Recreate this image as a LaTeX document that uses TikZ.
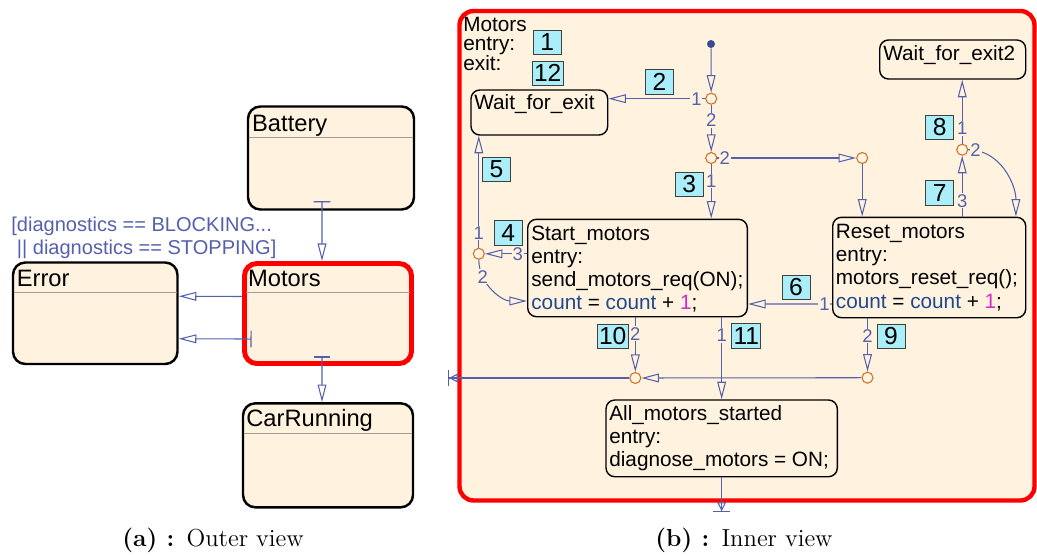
\documentclass[tikz,border=0pt]{standalone}
\usepackage{fontspec}
\newfontfamily\diafont{Liberation Sans}
\definecolor{stcream}{RGB}{255,243,224}
\definecolor{trblue}{RGB}{85,96,172}
\definecolor{dotblue}{RGB}{60,72,150}
\definecolor{jnorange}{RGB}{204,112,40}
\definecolor{lblcyan}{RGB}{170,238,250}
\definecolor{cntblue}{RGB}{30,72,140}
\definecolor{cntpink}{RGB}{214,40,200}
\definecolor{sepgray}{RGB}{165,155,155}
\usetikzlibrary{arrows.meta,positioning,fit}
\newcommand{\lntop}{\rule{0pt}{9pt}}

\begin{document}
\begin{tikzpicture}[x=0.02cm,y=0.02cm,
  outerstate/.style={draw=black,line width=1.4pt,rounded corners=7pt,fill=stcream,inner sep=0pt},
  activestate/.style={outerstate,draw=red,line width=2.8pt},
  innerstate/.style={draw=black,line width=0.8pt,rounded corners=5pt,fill=stcream,inner sep=0pt},
  outertitle/.style={anchor=base west,inner sep=0pt,font=\diafont\fontsize{13.5}{16}\selectfont},
  stext/.style={anchor=north west,inner sep=0pt,align=left,font=\diafont\fontsize{11.8}{13.2}\selectfont},
  sepline/.style={draw=sepgray,line width=0.5pt},
  trans/.style={draw=trblue,line width=0.6pt,-{Triangle[open,length=10pt,width=5pt]}},
  histtrans/.style={trans,{Bar[width=9.5pt]}-{Triangle[open,length=10pt,width=5pt]}},
  exittrans/.style={trans,-{Triangle[open,length=5pt,width=5pt]Bar[width=9.5pt]}},
  junc/.style={circle,draw=jnorange,fill=stcream,line width=0.6pt,minimum size=0.22cm,inner sep=0pt},
  defdot/.style={circle,fill=dotblue,minimum size=0.16cm,inner sep=0pt},
  numbox/.style={draw=black!75,fill=lblcyan,line width=0.5pt,minimum width=0.56cm,minimum height=0.49cm,
    inner sep=1pt,font=\diafont\fontsize{14}{14}\selectfont},
  prio/.style={text=trblue,fill=stcream,inner sep=0.5pt,font=\diafont\fontsize{10.5}{10.5}\selectfont},
  guardtext/.style={anchor=north west,inner sep=0pt,align=left,text=trblue,font=\diafont\fontsize{11.4}{13.3}\selectfont},
  capt/.style={anchor=base,inner sep=0pt,font=\fontsize{14}{17}\selectfont}
]
  \useasboundingbox (0,0) rectangle (1037,-555);

  % (a) outer view
  \node[outerstate,fit={(248,-106.5) (414,-209.5)}] (battery) {};
  \node[outertitle] (batteryt) at (251.8,-131.5) {Battery};
  \draw[sepline] (249,-137.3) -- (413,-137.3);
  \node[activestate,fit={(244.5,-263.5) (411.5,-363.5)}] (motors) {};
  \node[outertitle] (motorst) at (247.8,-286) {Motors};
  \draw[sepline] (246,-292.7) -- (410,-292.7);
  \node[outerstate,fit={(13,-262.5) (177.5,-364)}] (error) {};
  \node[outertitle] (errort) at (16.5,-286) {Error};
  \draw[sepline] (14,-292) -- (176.5,-292);
  \node[outerstate,fit={(243,-403.3) (413,-507.3)}] (carrun) {};
  \node[outertitle] (carrunt) at (246,-426.7) {CarRunning};
  \draw[sepline] (244,-433.3) -- (412,-433.3);
  \node[guardtext] (guard) at (11,-215.4) {\lntop[diagnostics == BLOCKING...\\\ || diagnostics == STOPPING]};

  \draw[histtrans,shorten <=-0.19cm] ([xshift=-0.18cm]battery.south) -- ([xshift=-0.12cm]motors.north);
  \draw[trans] ([yshift=0.34cm]motors.west) -- ([yshift=0.34cm]error.east);
  \draw[histtrans,shorten <=-0.19cm] ([yshift=-0.51cm]motors.west) -- ([yshift=-0.51cm]error.east);
  \draw[histtrans,shorten <=-0.19cm] ([xshift=-0.12cm]motors.south) -- ([xshift=-0.12cm]carrun.north);

  % (b) inner view
  \node[activestate,line width=2.5pt,rounded corners=8pt,fit={(459.5,-11) (1034.5,-500.5)}] (motorsin) {};
  \node[stext,font=\diafont\fontsize{11.8}{11.2}\selectfont] (motorshd) at (463,-15.1) {\lntop Motors\\entry:\\exit:};

  % states
  \node[innerstate,fit={(471,-90) (607.7,-135)}] (waitexit) {};
  \node[stext] (waitexitt) at (474,-93.4) {\lntop Wait\_for\_exit};
  \node[innerstate,fit={(879.7,-40) (1025.7,-79)}] (waitexit2) {};
  \node[stext] (waitexit2t) at (883,-44.1) {\lntop Wait\_for\_exit2};
  \node[innerstate,fit={(527.7,-219.3) (747.3,-316.7)}] (startm) {};
  \node[stext] (startmt) at (531,-224.1) {\lntop Start\_motors\\entry:\\send\_motors\_req(ON);\\
    \textcolor{cntblue}{count} = \textcolor{cntblue}{count} + \textcolor{cntpink}{1};};
  \node[innerstate,fit={(832.7,-217.3) (1025.7,-317.7)}] (resetm) {};
  \node[stext] (resetmt) at (835.6,-222.4) {\lntop Reset\_motors\\entry:\\motors\_reset\_req();\\
    \textcolor{cntblue}{count} = \textcolor{cntblue}{count} + \textcolor{cntpink}{1};};
  \node[innerstate,fit={(606,-400) (837.3,-476.7)}] (allm) {};
  \node[stext] (allmt) at (609,-404.1) {\lntop All\_motors\_started\\entry:\\diagnose\_motors = ON;};

  % junctions
  \node[defdot] (init) at (711,-44) {};
  \node[junc] (j1) at (711.2,-98.7) {};
  \node[junc] (j2) at (711.2,-158) {};
  \node[junc] (j3) at (862.2,-158) {};
  \node[junc] (j4) at (478.8,-253.8) {};
  \node[junc] (j5) at (962.2,-149.7) {};
  \node[junc] (j6) at (635.3,-378) {};
  \node[junc] (j7) at (867.5,-377.7) {};

  % transitions
  \draw[trans] (init) -- (j1);
  \draw[trans] (j1) -- node[prio,pos=0.09]{1} (j1 -| waitexit.east);
  \draw[trans] (j1) -- node[prio,pos=0.33]{2} (j2);
  \draw[trans] (j2) -- node[prio,pos=0.055]{2} (j3);
  \draw[trans] (j2) -- node[prio,pos=0.31]{1} (j2 |- startm.north);
  \draw[trans] (j3) -- (j3 |- resetm.north);
  \draw[trans] (startm.west |- j4) -- node[prio,pos=0.22]{3} (j4);
  \draw[trans] (j4) -- node[prio,pos=0.13]{1} (j4 |- waitexit.south);
  \draw[trans] (j4) to[out=-90,in=180] node[prio,pos=0.25]{2} ([yshift=-0.66cm]startm.west);
  \draw[trans] ([yshift=-0.73cm]resetm.west) -- node[prio,pos=0.09]{1} ([yshift=-0.72cm]startm.east);
  \draw[trans] (resetm.north -| j5) -- node[prio,pos=0.26]{3} (j5);
  \draw[trans] (j5) -- node[prio,pos=0.24]{1} (j5 |- waitexit2.south);
  \draw[trans] (j5) to[out=0,in=90] node[prio,pos=0.08]{2} ([xshift=-0.21cm]resetm.north east);
  \draw[trans] (startm.south -| j6) -- node[prio,pos=0.3]{2} (j6);
  \draw[trans] (startm.south -| allm.north) -- node[prio,pos=0.22]{1} (allm.north);
  \draw[trans] (resetm.south -| j7) -- node[prio,pos=0.33]{2} (j7);
  \draw[trans] (j7) -- (j6);
  \draw[exittrans,shorten >=-0.19cm] (j6) -- (j6 -| motorsin.west);
  \draw[exittrans,shorten >=-0.19cm] (allm.south) -- (allm.south |- motorsin.south);

  % transition numbers
  \node[numbox] (n1) at (547.2,-42.2) {1};
  \node[numbox] (n12) at (547.7,-73.2) {12};
  \node[numbox] (n2) at (659.5,-81.8) {2};
  \node[numbox] (n3) at (689.2,-184.2) {3};
  \node[numbox] (n4) at (508.3,-233) {4};
  \node[numbox] (n5) at (496.5,-169.2) {5};
  \node[numbox] (n6) at (796,-287.2) {6};
  \node[numbox] (n7) at (939.8,-193) {7};
  \node[numbox] (n8) at (939.8,-127.5) {8};
  \node[numbox] (n9) at (891,-336.5) {9};
  \node[numbox] (n10) at (612.7,-336.2) {10};
  \node[numbox] (n11) at (746.3,-336) {11};

  % captions
  \node[capt] (capa) at (213,-546) {\textbf{(a)\ :}\enspace Outer view};
  \node[capt] (capb) at (744,-546) {\textbf{(b)\ :}\enspace Inner view};
\end{tikzpicture}
\end{document}
